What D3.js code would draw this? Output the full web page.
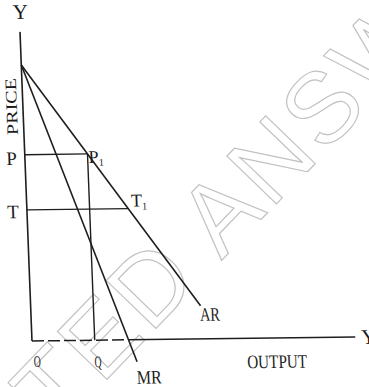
<!DOCTYPE html>
<html>
<head>
<meta charset="utf-8">
<script src="https://cdn.jsdelivr.net/npm/d3@7"></script>
<style>
  body { margin: 0; background: #fff; }
  svg { display: block; }
  text { font-family: "Liberation Serif", "DejaVu Serif", serif; fill: #1c1c1c; }
</style>
</head>
<body>
<div id="chart"></div>
<script>
// demand (AR) and marginal revenue (MR) lines, output vs price
const arQ = [0, 8.8];
const arP = [10, 1.2];
const mrQ = [0, 5.4];
const mrP = [10, -0.8];

// price levels marked on the diagram
const levelNames = ["P", "T"];
const levelQ = [3.25, 5.25];
const levelP = [6.75, 4.75];

// axis extents and labels
const axisMaxQ = 16.75;
const axisMaxP = 11.2;
const xAxisLabel = "OUTPUT";
const yAxisLabel = "PRICE";

const width = 369, height = 387;

const svg = d3.select("#chart").append("svg")
    .attr("width", width)
    .attr("height", height);

// faint outlined watermark
svg.append("text")
    .attr("transform", "translate(56,432) rotate(-46)")
    .style("font-family", "'Liberation Sans', Arial, sans-serif")
    .attr("font-size", 100)
    .attr("letter-spacing", 4)
    .style("fill", "none")
    .style("stroke", "#c2c2c2")
    .style("stroke-width", 1.2)
    .text("TED ANSWERS");

// scan is slightly skewed, so the plot group gets a small shear
const g = svg.append("g")
    .attr("transform", "matrix(1,-0.0124,0.0388,1,32,341)");

// scales (y grows upward from the origin)
const x = d3.scaleLinear().domain([0, 10]).range([0, 193]);
const y = d3.scaleLinear().domain([0, 10]).range([0, -276]);

const ink = "#1e1e1e";
const line = d3.line().x(d => x(d[0])).y(d => y(d[1]));

// axes
g.append("path")
    .attr("d", line([[0, 0], [0, axisMaxP]]))
    .attr("stroke", ink).attr("stroke-width", 1.6).attr("fill", "none");
g.append("path")
    .attr("d", line([[0, 0], [mrQ[0] + 5, 0]]))
    .attr("stroke", ink).attr("stroke-width", 1.5).attr("fill", "none")
    .attr("stroke-dasharray", "12,4");
g.append("path")
    .attr("d", line([[5, 0], [axisMaxQ, 0]]))
    .attr("stroke", ink).attr("stroke-width", 1.5).attr("fill", "none");

// AR and MR curves
const curves = [
    { name: "AR", q: arQ, p: arP, dx: -1, dy: 15 },
    { name: "MR", q: mrQ, p: mrP, dx: -1, dy: 22 }
];
curves.forEach(c => {
    g.append("path")
        .attr("d", line(c.q.map((q, i) => [q, c.p[i]])))
        .attr("stroke", ink).attr("stroke-width", 1.6).attr("fill", "none");
    g.append("text")
        .attr("x", x(c.q[1]) + c.dx)
        .attr("y", y(c.p[1]) + c.dy)
        .attr("font-size", 19)
        .attr("textLength", c.name === "AR" ? 20 : 25)
        .attr("lengthAdjust", "spacingAndGlyphs")
        .text(c.name);
});

// horizontal price lines from the axis to the AR curve
levelNames.forEach((name, i) => {
    g.append("path")
        .attr("d", line([[0, levelP[i]], [levelQ[i], levelP[i]]]))
        .attr("stroke", ink).attr("stroke-width", 1.4).attr("fill", "none");
    g.append("text")
        .attr("x", x(0) - 8)
        .attr("y", y(levelP[i]) + (i === 0 ? 10 : 8))
        .attr("text-anchor", "end")
        .attr("font-size", 19)
        .text(name);
    const lab = g.append("text")
        .attr("x", x(levelQ[i]) + (i === 0 ? 1 : 3))
        .attr("y", y(levelP[i]) + (i === 0 ? 9 : -2))
        .attr("font-size", 18);
    lab.append("tspan").text(name);
    lab.append("tspan").attr("font-size", 10).attr("dy", 3).text("1");
});

// vertical drop from P1 to the output axis
g.append("path")
    .attr("d", line([[levelQ[0], levelP[0]], [levelQ[0], 0]]))
    .attr("stroke", ink).attr("stroke-width", 1.4).attr("fill", "none");

// axis letters
g.append("text")
    .attr("x", x(0) + 1)
    .attr("y", y(axisMaxP) - 13)
    .attr("text-anchor", "middle")
    .attr("font-size", 21)
    .text("Y");
g.append("text")
    .attr("x", x(axisMaxQ) + 6)
    .attr("y", 7)
    .attr("font-size", 21)
    .text("Y");
g.append("text")
    .attr("transform", `translate(${x(0) - 6},${y(8.5)}) rotate(-90)`)
    .attr("text-anchor", "middle")
    .attr("font-size", 16)
    .attr("textLength", 57)
    .attr("lengthAdjust", "spacingAndGlyphs")
    .text(yAxisLabel);
g.append("text")
    .attr("x", x(11.1))
    .attr("y", 30)
    .attr("font-size", 19)
    .attr("textLength", 60)
    .attr("lengthAdjust", "spacingAndGlyphs")
    .text(xAxisLabel);
g.append("text")
    .attr("x", x(0) + 4.5)
    .attr("y", 26)
    .attr("text-anchor", "middle")
    .attr("font-size", 16)
    .attr("textLength", 7)
    .attr("lengthAdjust", "spacingAndGlyphs")
    .text("O");
g.append("text")
    .attr("x", x(levelQ[0]) + 2.5)
    .attr("y", 27)
    .attr("text-anchor", "middle")
    .attr("font-size", 16)
    .attr("textLength", 7)
    .attr("lengthAdjust", "spacingAndGlyphs")
    .text("Q");
</script>
</body>
</html>
